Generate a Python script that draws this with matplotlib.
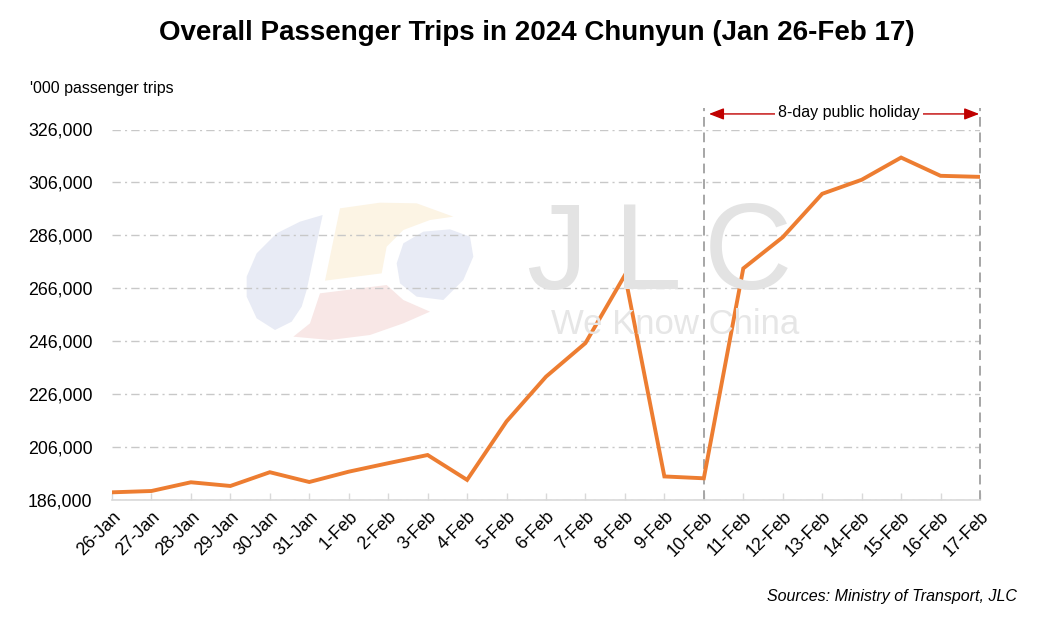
import matplotlib
matplotlib.use("Agg")
import matplotlib.pyplot as plt
from matplotlib.patches import Polygon
from matplotlib.transforms import blended_transform_factory
from matplotlib.ticker import FuncFormatter

dates = ["26-Jan", "27-Jan", "28-Jan", "29-Jan", "30-Jan", "31-Jan", "1-Feb", "2-Feb",
         "3-Feb", "4-Feb", "5-Feb", "6-Feb", "7-Feb", "8-Feb", "9-Feb", "10-Feb",
         "11-Feb", "12-Feb", "13-Feb", "14-Feb", "15-Feb", "16-Feb", "17-Feb"]
trips = [188900, 189400, 192700, 191300, 196500, 192800, 196700, 199900,
         203000, 193600, 215700, 232600, 245300, 271000, 194900, 194200,
         273500, 285300, 301700, 307000, 315400, 308500, 308100]
yticks = [186000, 206000, 226000, 246000, 266000, 286000, 306000, 326000]
holiday_start = "10-Feb"
holiday_end = "17-Feb"

plt.rcParams['font.family'] = ['Liberation Sans', 'DejaVu Sans']

fig = plt.figure(figsize=(10.4, 6.17), dpi=100)
ax = fig.add_axes([112/1040, 1-500/617, (980-112)/1040, (500-129.5)/617])

# watermark logo (approximate shapes, figure pixel coords)
W, H = 1040, 617
def fx(x): return x / W
def fy(y): return 1 - y / H
def logo_poly(pts, color):
    xy = [(fx(230 + zx / 3), fy(190 + zy / 3)) for zx, zy in pts]
    return Polygon(xy, closed=True, facecolor=color, edgecolor="none", zorder=0)

shapes = [
    ([(278, 75), (230, 300), (215, 350), (185, 395), (135, 420), (80, 385), (50, 320),
      (50, 260), (80, 190), (140, 130), (210, 95)], "#E8EBF5"),
    ([(330, 55), (450, 38), (560, 40), (670, 80), (600, 90), (520, 120), (470, 170),
      (455, 250), (285, 272)], "#FCF4E4"),
    ([(500, 220), (520, 160), (580, 125), (660, 118), (720, 140), (730, 200), (700, 270),
      (640, 330), (560, 320), (510, 280)], "#E8EBF5"),
    ([(270, 310), (470, 285), (520, 330), (600, 365), (520, 400), (420, 435), (300, 450),
      (190, 440), (240, 400)], "#F8E7E6"),
]
for pts, c in shapes:
    fig.add_artist(logo_poly(pts, c))

for letter, xl in (("J", 526), ("L", 614), ("C", 704)):
    fig.text(fx(xl), fy(289), letter, fontsize=88, color="#E3E3E3", ha="left",
             va="baseline", zorder=0)
fig.text(fx(675), fy(334), "We Know China", fontsize=25, color="#E6E6E6", ha="center",
         va="baseline", zorder=0)
ax.set_facecolor("none")

x = list(range(len(dates)))
ax.plot(x, trips, color="#ED7D31", lw=2.8, solid_joinstyle="miter", zorder=3)

ax.set_xlim(0, len(dates) - 1)
ax.set_ylim(yticks[0], yticks[-1])
ax.set_yticks(yticks)
ax.yaxis.set_major_formatter(FuncFormatter(lambda v, p: f"{int(v):,}"))
ax.set_xticks(x)
ax.set_xticklabels(dates, rotation=45, ha="right", rotation_mode="anchor")

ax.grid(axis="y", color="#C8C8C8", lw=1.0, linestyle=(0, (6, 3, 1.5, 3)))
ax.grid(axis="x", visible=False)
for s in ["left", "right", "top"]:
    ax.spines[s].set_visible(False)
ax.spines["bottom"].set_color("#D9D9D9")
ax.spines["bottom"].set_linewidth(1.2)
ax.tick_params(axis="y", length=0, labelsize=12.8, pad=14)
ax.tick_params(axis="x", direction="in", length=5, color="#D9D9D9", width=1,
               labelsize=12.8, pad=6)

# holiday markers
tr = blended_transform_factory(ax.transData, ax.transAxes)
i0 = dates.index(holiday_start)
i1 = dates.index(holiday_end)
for i in (i0, i1):
    ax.plot([i, i], [0, 1.058], transform=tr, color="#A6A6A6", lw=1.4,
            linestyle=(0, (5, 3)), clip_on=False, zorder=2)
ax.annotate("", xy=(i1 - 0.02, 1.042), xytext=(i0 + 0.13, 1.042), xycoords=tr,
            textcoords=tr,
            arrowprops=dict(arrowstyle="<|-|>,head_length=0.9,head_width=0.35",
                            color="#C00000", lw=1.0, shrinkA=0, shrinkB=0))
ax.text((i0 + i1) / 2 + 0.18, 1.045, "8-day public holiday", transform=tr,
        ha="center", va="center", fontsize=11.5,
        bbox=dict(facecolor="white", edgecolor="none", pad=2), zorder=5)

fig.text(fx(537), fy(33), "Overall Passenger Trips in 2024 Chunyun (Jan 26-Feb 17)",
         ha="center", va="center", fontsize=20, fontweight="bold")
fig.text(fx(30), fy(89), "'000 passenger trips", ha="left", va="center", fontsize=11.5)
fig.text(fx(1017), fy(597), "Sources: Ministry of Transport, JLC", ha="right",
         va="center", fontsize=11.5, style="italic")

fig.savefig("out.png", dpi=100)
